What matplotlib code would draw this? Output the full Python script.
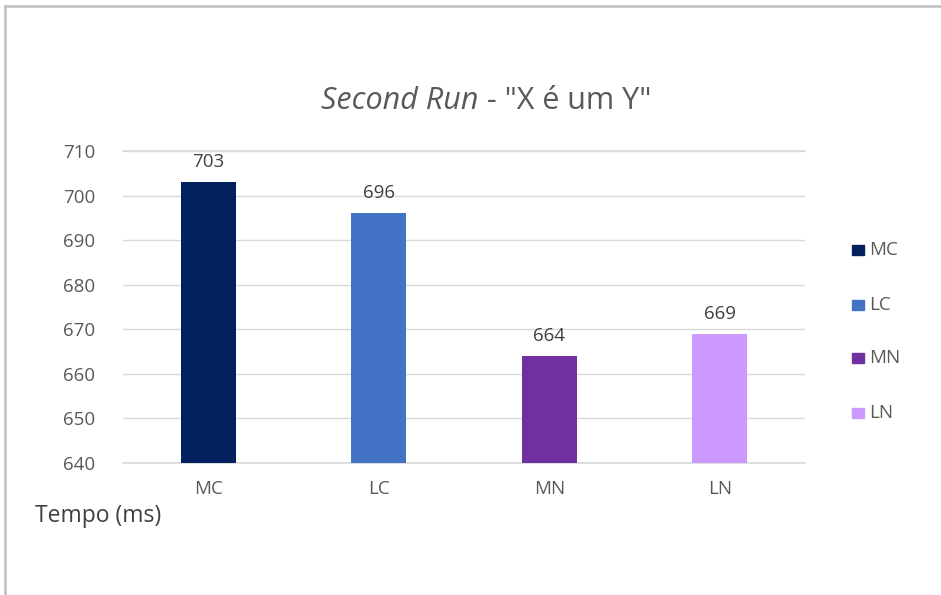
import matplotlib.pyplot as plt
from matplotlib.patches import Rectangle
from matplotlib.lines import Line2D

categories = ['MC', 'LC', 'MN', 'LN']
tempos = [703, 696, 664, 669]
colors = ['#03215E', '#4472C4', '#7030A0', '#CC99FF']
y_ticks = [640, 650, 660, 670, 680, 690, 700, 710]

plt.rcParams['font.family'] = ['Open Sans', 'DejaVu Sans']

fig = plt.figure(figsize=(9.41, 5.95), dpi=100)
W, H = 941, 595

# chart area border (runs off right and bottom edges)
fig.add_artist(Line2D([5 / W, 1.0], [1 - 6 / H, 1 - 6 / H], color='#BFBFBF', lw=1.8,
                      transform=fig.transFigure))
fig.add_artist(Line2D([5 / W, 5 / W], [1 - 6 / H, 0.0], color='#BFBFBF', lw=1.8,
                      transform=fig.transFigure))

ax = fig.add_axes([123 / W, 1 - 463 / H, 682 / W, 312 / H])
x = range(len(categories))
bars = ax.bar(x, tempos, width=0.32, color=colors, zorder=3)
ax.set_xlim(-0.5, len(categories) - 0.5)
ax.set_ylim(640, 710)
ax.set_yticks(y_ticks)
ax.set_xticks(list(x))
ax.set_xticklabels(categories)
ax.tick_params(axis='both', length=0, labelsize=13.5, labelcolor='#595959')
ax.tick_params(axis='y', pad=20)
ax.tick_params(axis='x', pad=12)
ax.grid(axis='y', color='#D9D9D9', lw=1, zorder=0)
for yv in (640, 710):
    ax.axhline(yv, color='#D9D9D9', lw=1.2, zorder=1, clip_on=False)
for s in ax.spines.values():
    s.set_visible(False)

for b, v in zip(bars, tempos):
    ax.annotate(str(v), (b.get_x() + b.get_width() / 2, v), xytext=(0, 8),
                textcoords='offset points', ha='center', va='bottom',
                fontsize=13.5, color='#404040')

# title: italic part then regular part
title_y = 1 - 101 / H
t1 = fig.text(0, title_y, 'Second Run', fontsize=22, style='italic',
              color='#595959', ha='left', va='center')
t2 = fig.text(0, title_y, ' - "X é um Y"', fontsize=22,
              color='#595959', ha='left', va='center')
fig.canvas.draw()
w1 = t1.get_window_extent().width
w2 = t2.get_window_extent().width
left = 486 - (w1 + w2) / 2
t1.set_x(left / W)
t2.set_x((left + w1) / W)

fig.text(35 / W, 1 - 516 / H, 'Tempo (ms)', fontsize=16.5, color='#404040',
         ha='left', va='center')

# legend
leg_y = [250, 305, 358, 413]
for cat, c, yy in zip(categories, colors, leg_y):
    fig.add_artist(Rectangle((852 / W, 1 - (yy + 5) / H), 12 / W, 10 / H,
                             color=c, transform=fig.transFigure))
    fig.text(869 / W, 1 - yy / H, cat, fontsize=13.5, color='#595959',
             ha='left', va='center')

fig.savefig('out.png', dpi=100)
